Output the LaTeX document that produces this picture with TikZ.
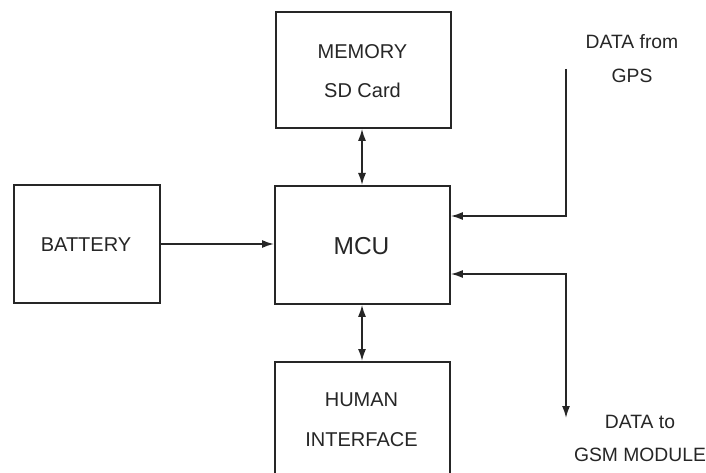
\documentclass[tikz,border=0pt]{standalone}
\usepackage{fontspec}
\setmainfont{Liberation Sans}
\usetikzlibrary{arrows.meta}
\begin{document}
\begin{tikzpicture}[x=1pt,y=-1pt,
  blk/.style={draw=black!85,line width=1.8pt,inner sep=0pt,anchor=north west},
  lbl/.style={align=center,font=\fontsize{20}{39}\selectfont,text=black!85},
  conn/.style={line width=1.7pt,draw=black!85,{Latex[length=12pt,width=8pt]}-{Latex[length=12pt,width=8pt]}},
  conn1/.style={line width=1.7pt,draw=black!85,-{Latex[length=12pt,width=8pt]}}]
\useasboundingbox (0,0) rectangle (706,473);
\clip (0,0) rectangle (706,473);
\fill[white] (0,0) rectangle (706,473);
% boxes
\node[blk,minimum width=175pt,minimum height=116pt] (mem) at (275,11) {};
\node[lbl] at (362.5,71) {MEMORY\\SD Card};
\node[blk,minimum width=175pt,minimum height=118pt] (mcu) at (274,185) {};
\node[font=\fontsize{24.5}{28}\selectfont,text=black!85] at (361.5,246) {MCU};
\node[blk,minimum width=146pt,minimum height=118pt] (bat) at (13,184) {};
\node[lbl] at (86,245) {BATTERY};
\node[blk,minimum width=175pt,minimum height=130pt] (hi) at (274,361) {};
\node[lbl,font=\fontsize{20}{40}\selectfont] at (361.5,420) {HUMAN\\INTERFACE};
% right labels
\node[lbl,font=\fontsize{19.3}{34}\selectfont] (gps) at (632,59) {DATA from\\GPS};
\node[lbl,font=\fontsize{19.3}{33}\selectfont] (gsm) at (640,438) {DATA to\\GSM MODULE};
% connectors
\draw[conn] (mem.south -| 362,0) -- (mcu.north -| 362,0);
\draw[conn] (mcu.south -| 362,0) -- (hi.north -| 362,0);
\draw[conn1] (bat.east |- 0,244) -- (mcu.west |- 0,244);
\coordinate (gpsstart) at (566,69);
\coordinate (gsmend) at (566,418);
\draw[conn1] (gpsstart) -- (566,216) -- (mcu.east |- 0,216);
\draw[conn] (mcu.east |- 0,274) -- (566,274) -- (gsmend);
\end{tikzpicture}
\end{document}
